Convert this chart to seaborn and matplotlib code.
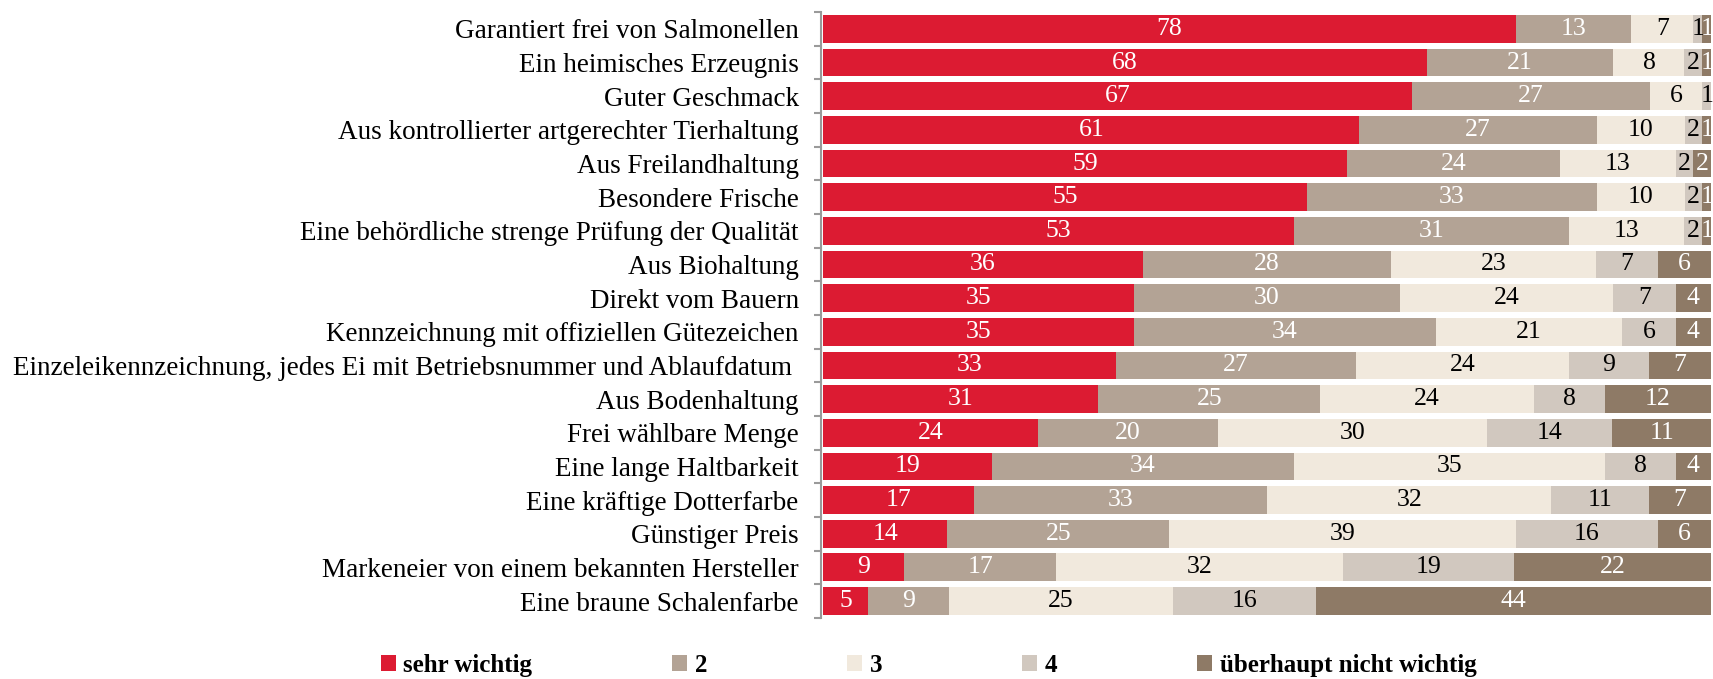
import numpy as np
import pandas as pd
import seaborn as sns
import matplotlib.pyplot as plt
from matplotlib.ticker import FixedLocator

# categories (top to bottom)
categories = [
    "Garantiert frei von Salmonellen",
    "Ein heimisches Erzeugnis",
    "Guter Geschmack",
    "Aus kontrollierter artgerechter Tierhaltung",
    "Aus Freilandhaltung",
    "Besondere Frische",
    "Eine behördliche strenge Prüfung der Qualität",
    "Aus Biohaltung",
    "Direkt vom Bauern",
    "Kennzeichnung mit offiziellen Gütezeichen",
    "Einzeleikennzeichnung, jedes Ei mit Betriebsnummer und Ablaufdatum ",
    "Aus Bodenhaltung",
    "Frei wählbare Menge",
    "Eine lange Haltbarkeit",
    "Eine kräftige Dotterfarbe",
    "Günstiger Preis",
    "Markeneier von einem bekannten Hersteller",
    "Eine braune Schalenfarbe",
]

sehr_wichtig = [78, 68, 67, 61, 59, 55, 53, 36, 35, 35, 33, 31, 24, 19, 17, 14, 9, 5]
stufe_2 = [13, 21, 27, 27, 24, 33, 31, 28, 30, 34, 27, 25, 20, 34, 33, 25, 17, 9]
stufe_3 = [7, 8, 6, 10, 13, 10, 13, 23, 24, 21, 24, 24, 30, 35, 32, 39, 32, 25]
stufe_4 = [1, 2, 1, 2, 2, 2, 2, 7, 7, 6, 9, 8, 14, 8, 11, 16, 19, 16]
nicht_wichtig = [1, 1, 0, 1, 2, 1, 1, 6, 4, 4, 7, 12, 11, 4, 7, 6, 22, 44]

series_names = ["sehr wichtig", "2", "3", "4", "überhaupt nicht wichtig"]
colors = ["#DC1B32", "#B3A395", "#F1E9DD", "#D1C8BF", "#8E7A66"]
text_colors = ["white", "white", "black", "black", "white"]

df = pd.DataFrame({"Kategorie": categories})
for name, vals in zip(series_names, [sehr_wichtig, stufe_2, stufe_3, stufe_4, nicht_wichtig]):
    df[name] = vals

# rounded percentages don't always add to 100 -> scale each row to 100 for drawing
share = df[series_names].div(df[series_names].sum(axis=1), axis=0) * 100
cum = share.cumsum(axis=1)

fig = plt.figure(figsize=(17.13, 6.79), dpi=100)
ax = fig.add_axes([0.4805, 0.0899, 0.5184, 0.8924])

# draw from the longest cumulative bar to the shortest so they stack visually
for i in range(len(series_names) - 1, -1, -1):
    sns.barplot(x=cum[series_names[i]], y=df["Kategorie"], color=colors[i],
                orient="h", width=0.83, saturation=1, ax=ax, label=series_names[i],
                linewidth=0)

# value labels
for i, name in enumerate(series_names):
    centers = cum[name] - share[name] / 2
    for j, (c, v) in enumerate(zip(centers, df[name])):
        if v <= 0:
            continue
        ax.text(c, j, str(v), ha="center", va="center", color=text_colors[i],
                fontsize=18.5, family="Liberation Serif")

ax.set_xlim(0, 100)
ax.set_ylim(len(categories) - 0.5, -0.5)
ax.set_xlabel("")
ax.set_ylabel("")
ax.xaxis.set_visible(False)
for s in ["top", "right", "bottom"]:
    ax.spines[s].set_visible(False)
ax.spines["left"].set_color("#9a9a9a")
ax.spines["left"].set_linewidth(1.5)
ax.spines["left"].set_position(("data", -0.25))

ax.yaxis.set_minor_locator(FixedLocator(np.arange(-0.5, len(categories), 1.0)))
ax.tick_params(axis="y", which="major", length=0, pad=16)
ax.tick_params(axis="y", which="minor", length=5, width=1.5, color="#9a9a9a")
for lbl in ax.get_yticklabels():
    lbl.set_fontfamily("Liberation Serif")
    lbl.set_fontsize(19.5)

# legend in series order
handles, labels = ax.get_legend_handles_labels()
order = [labels.index(n) for n in series_names]
ax.legend([handles[k] for k in order], [labels[k] for k in order],
          loc="center", bbox_to_anchor=(0.542, 0.02), bbox_transform=fig.transFigure,
          ncol=5, frameon=False, handlelength=0.6, handleheight=0.6,
          handletextpad=0.3, columnspacing=5.6,
          prop={"family": "Liberation Serif", "weight": "bold", "size": 18})

plt.savefig("out.png", dpi=100)
